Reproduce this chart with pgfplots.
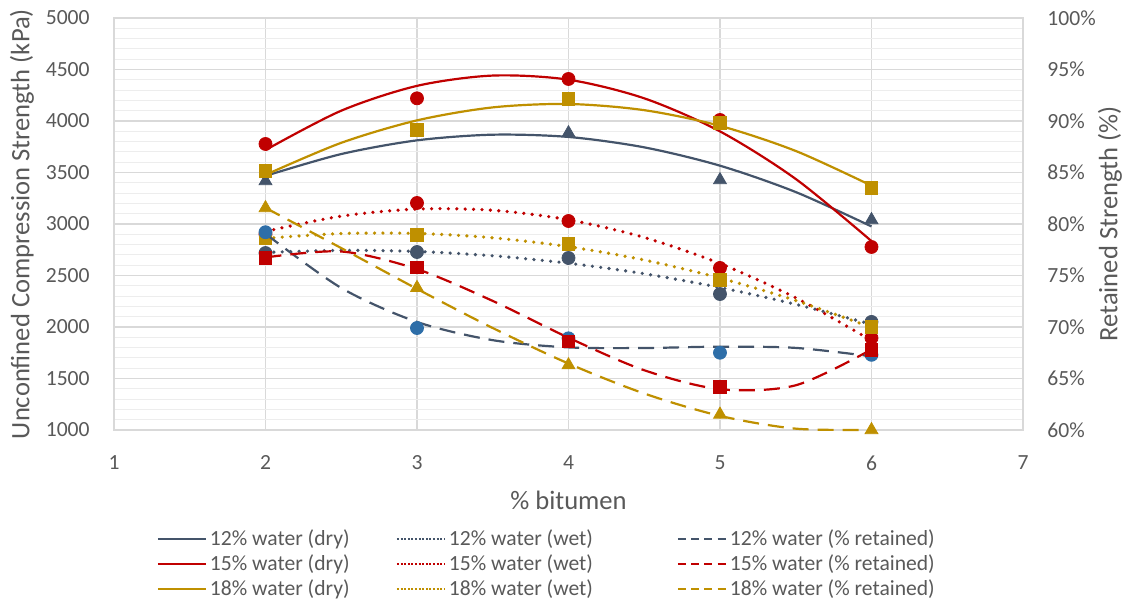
\documentclass[border=0pt]{standalone}
\usepackage{pgfplots}
\usepackage{pgfplotstable}
\pgfplotsset{compat=1.18}
\usepackage{fontspec}
\setmainfont{Carlito}
\definecolor{cSlate}{HTML}{44546A}
\definecolor{cRed}{HTML}{C00000}
\definecolor{cGold}{HTML}{BF9000}
\definecolor{cBlue}{HTML}{2E6EA8}
\definecolor{cText}{HTML}{595959}
\definecolor{cGrid}{HTML}{D9D9D9}
\definecolor{cMinor}{HTML}{EDEDED}

% measured data points
\pgfplotstableread{
x d12 d15 d18 w12 w15 w18 r12 r15 r18
2 3417 3777 3515 2718 2900 2864 79.2 76.7 81.55
3 3900 4220 3913 2728 3204 2893 69.9 75.8 73.8
4 3883 4408 4214 2670 3029 2806 68.9 68.6 66.3
5 3427 4010 3980 2320 2573 2456 67.5 64.2 61.5
6 3039 2777 3350 2049 1893 2000 67.3 67.8 60.0
}\datatable

% trendlines as drawn
\pgfplotstableread{
x td12 td15 td18 tw12 tw15 tw18 tr12 tr15 tr18
2.0 3467 3718 3477 2724 2928 2861 79.05 76.75 81.57
2.5 3679 4100 3788 2744 3076 2907 73.79 77.33 77.66
3.0 3812 4341 4006 2733 3145 2908 70.49 75.62 73.70
3.5 3867 4441 4132 2691 3133 2866 68.72 72.53 69.90
4.0 3845 4401 4165 2619 3041 2780 68.02 68.96 66.45
4.5 3744 4220 4105 2517 2869 2650 67.96 65.80 63.54
5.0 3566 3899 3953 2383 2616 2475 68.09 63.96 61.37
5.5 3310 3437 3709 2220 2283 2257 67.97 64.34 60.13
6.0 2976 2834 3372 2026 1869 1995 67.15 67.82 60.02
}\trendtable

\pgfplotsset{
  tdry/.style={line width=1.1pt, smooth},
  twet/.style={line width=1.8pt, smooth, dash pattern=on 0pt off 4.2pt, line cap=round},
  tret/.style={line width=1.1pt, smooth, dash pattern=on 8pt off 4.5pt},
  ldry/.style={line width=1pt},
  lwet/.style={line width=1pt, dash pattern=on 1pt off 0.8pt},
  lret/.style={line width=1pt, dash pattern=on 4pt off 2.6pt},
  mkc/.style={only marks, mark=*, mark size=3.25pt},
  mks/.style={only marks, mark=square*, mark size=3.15pt},
  mkt/.style={only marks, mark=triangle*, mark size=3.7pt},
  common/.style={
    scale only axis, width=454.5pt, height=206pt,
    xmin=1, xmax=7, at={(0,0)}, anchor=south west, clip=false,
    tick label style={font=\fontsize{10.8}{13}\selectfont, text=cText},
    /pgf/number format/assume math mode=true,
    /pgf/number format/1000 sep={},
    label style={font=\fontsize{13.3}{16}\selectfont, text=cText},
    major tick length=0pt, minor tick length=0pt,
    scaled y ticks=false,
  },
}

\begin{document}
\begin{tikzpicture}
\useasboundingbox (-57pt,-89pt) rectangle (509pt,215pt);
\begin{axis}[common,
  ymin=1000, ymax=5000, ytick={1000,1500,...,5000}, minor y tick num=4,
  xtick={1,...,7},
  grid=both,
  major grid style={cGrid, line width=0.8pt},
  minor grid style={cMinor, line width=0.5pt},
  axis line style={cGrid, line width=0.8pt},
  yticklabel style={anchor=east, inner sep=0pt, xshift=-12pt},
  xticklabel style={anchor=north, inner sep=0pt, yshift=-12.6pt},
  ylabel={Unconfined Compression Strength (kPa)},
  xlabel={\% bitumen},
  ylabel style={at={(axis description cs:-0.1012,0.5)}, anchor=center, rotate=0},
  xlabel style={at={(axis description cs:0.5,-0.1699)}, anchor=center},
]
\addplot[cSlate, tdry] table[x=x, y=td12] {\trendtable};
\addplot[cRed, tdry] table[x=x, y=td15] {\trendtable};
\addplot[cGold, tdry] table[x=x, y=td18] {\trendtable};
\addplot[cSlate, twet] table[x=x, y=tw12] {\trendtable};
\addplot[cRed, twet] table[x=x, y=tw15] {\trendtable};
\addplot[cGold, twet] table[x=x, y=tw18] {\trendtable};
\addplot[cSlate, mkt] table[x=x, y=d12] {\datatable};
\addplot[cRed, mkc] table[x=x, y=d15] {\datatable};
\addplot[cGold, mks] table[x=x, y=d18] {\datatable};
\addplot[cSlate, mkc] table[x=x, y=w12] {\datatable};
\addplot[cRed, mkc] table[x=x, y=w15] {\datatable};
\addplot[cGold, mks] table[x=x, y=w18] {\datatable};
\end{axis}
\begin{axis}[common,
  ymin=60, ymax=100, ytick={60,65,...,100},
  axis x line=none, axis y line*=right,
  y axis line style={draw=none},
  yticklabel={\pgfmathprintnumber{\tick}\%},
  yticklabel style={anchor=west, inner sep=0pt, xshift=12pt},
  ylabel={Retained Strength (\%)},
  ylabel style={at={(axis description cs:1.0957,0.5)}, anchor=center},
  legend columns=3,
  legend cell align=left,
  legend style={at={(axis description cs:0.0473,-0.2354)}, anchor=north west,
    draw=none, fill=none, inner sep=0pt, outer sep=0pt,
    row sep=0pt, column sep=0pt,
    font=\fontsize{10.8}{13}\selectfont, text=cText,
    nodes={inner sep=1.5pt}},
  legend image code/.code={\draw[#1] (0pt,0pt) -- (24pt,0pt);},
]
\addlegendimage{cSlate, ldry}
\addlegendentry{\makebox[91.5pt][l]{\rule[-2pt]{0pt}{10pt}12\% water (dry)}}
\addlegendimage{cSlate, lwet}
\addlegendentry{\makebox[112.5pt][l]{\rule[-2pt]{0pt}{10pt}12\% water (wet)}}
\addlegendimage{cSlate, lret}
\addlegendentry{\rule[-2pt]{0pt}{10pt}12\% water (\% retained)}
\addlegendimage{cRed, ldry}
\addlegendentry{\makebox[91.5pt][l]{\rule[-2pt]{0pt}{10pt}15\% water (dry)}}
\addlegendimage{cRed, lwet}
\addlegendentry{\makebox[112.5pt][l]{\rule[-2pt]{0pt}{10pt}15\% water (wet)}}
\addlegendimage{cRed, lret}
\addlegendentry{\rule[-2pt]{0pt}{10pt}15\% water (\% retained)}
\addlegendimage{cGold, ldry}
\addlegendentry{\makebox[91.5pt][l]{\rule[-2pt]{0pt}{10pt}18\% water (dry)}}
\addlegendimage{cGold, lwet}
\addlegendentry{\makebox[112.5pt][l]{\rule[-2pt]{0pt}{10pt}18\% water (wet)}}
\addlegendimage{cGold, lret}
\addlegendentry{\rule[-2pt]{0pt}{10pt}18\% water (\% retained)}
\addplot[forget plot, cSlate, tret] table[x=x, y=tr12] {\trendtable};
\addplot[forget plot, cRed, tret] table[x=x, y=tr15] {\trendtable};
\addplot[forget plot, cGold, tret] table[x=x, y=tr18] {\trendtable};
\addplot[forget plot, cBlue, mkc] table[x=x, y=r12] {\datatable};
\addplot[forget plot, cRed, mks] table[x=x, y=r15] {\datatable};
\addplot[forget plot, cGold, mkt] table[x=x, y=r18] {\datatable};
\end{axis}
\end{tikzpicture}
\end{document}
